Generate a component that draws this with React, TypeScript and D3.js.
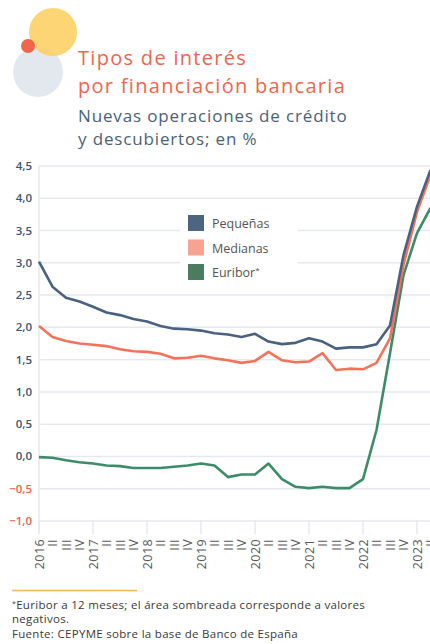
import React, { useRef, useEffect } from 'react';
import * as d3 from 'd3';

// quarterly periods, 2016 I .. 2023 II
const periods = [
    '2016', 'II', 'III', 'IV',
    '2017', 'II', 'III', 'IV',
    '2018', 'II', 'III', 'IV',
    '2019', 'II', 'III', 'IV',
    '2020', 'II', 'III', 'IV',
    '2021', 'II', 'III', 'IV',
    '2022', 'II', 'III', 'IV',
    '2023', 'II'
];

const pequenas = [3.02, 2.63, 2.46, 2.40, 2.32, 2.23, 2.19, 2.13, 2.09, 2.02, 1.98, 1.97, 1.95, 1.91, 1.89, 1.85,
    1.90, 1.78, 1.74, 1.76, 1.83, 1.78, 1.67, 1.69, 1.69, 1.74, 2.03, 3.12, 3.87, 4.44];
const medianas = [2.02, 1.85, 1.79, 1.75, 1.73, 1.71, 1.66, 1.63, 1.62, 1.59, 1.52, 1.53, 1.56, 1.52, 1.49, 1.45,
    1.48, 1.62, 1.49, 1.46, 1.47, 1.60, 1.34, 1.36, 1.35, 1.45, 1.83, 2.97, 3.79, 4.36];
const euribor = [-0.01, -0.02, -0.06, -0.09, -0.11, -0.14, -0.15, -0.18, -0.18, -0.18, -0.16, -0.14, -0.11, -0.14, -0.32, -0.28,
    -0.28, -0.11, -0.35, -0.47, -0.49, -0.47, -0.49, -0.49, -0.35, 0.41, 1.60, 2.81, 3.46, 3.85];

const yTicks = [-1, -0.5, 0, 0.5, 1, 1.5, 2, 2.5, 3, 3.5, 4, 4.5];

const seriesNames = ['Pequeñas', 'Medianas', 'Euribor'];
const lineColors = ['#4a6180', '#f4725a', '#3c8c69'];
const swatchColors = ['#4d6581', '#f8a391', '#4a7d60'];

const FONT = '"Open Sans", sans-serif';

export default function App() {
    const svgRef = useRef(null);

    useEffect(() => {
        const svg = d3.select(svgRef.current);
        svg.selectAll('*').remove();

        const left = 39, top = 166, bottom = 521;
        const step = 13.5;

        const xScale = d3.scaleLinear()
            .domain([0, periods.length - 1])
            .range([left, left + step * (periods.length - 1)]);

        const yScale = d3.scaleLinear()
            .domain([-1, 4.5])
            .range([bottom, top]);

        const fmt = d3.formatLocale({ decimal: ',', thousands: '.', grouping: [3], currency: ['', '€'] }).format('.1f');

        // decorative circles
        const deco = svg.append('g');
        deco.append('circle').attr('cx', 38).attr('cy', 72).attr('r', 25).attr('fill', '#e3e7ee');
        deco.append('circle').attr('cx', 53).attr('cy', 32).attr('r', 24).attr('fill', '#fdcf62').attr('opacity', 0.88);
        deco.append('circle').attr('cx', 28).attr('cy', 46).attr('r', 7).attr('fill', '#ee5a3c').attr('opacity', 0.92);

        // titles
        const title = svg.append('text')
            .attr('font-family', FONT)
            .attr('font-size', 20)
            .attr('font-weight', 500)
            .attr('letter-spacing', 1.3)
            .attr('fill', '#f0654c');
        title.append('tspan').attr('x', 78).attr('y', 65).text('Tipos de interés');
        title.append('tspan').attr('x', 78).attr('y', 93).text('por financiación bancaria');

        const sub = svg.append('text')
            .attr('font-family', FONT)
            .attr('font-size', 17)
            .attr('letter-spacing', 0.85)
            .attr('fill', '#4a6279');
        sub.append('tspan').attr('x', 78).attr('y', 122).text('Nuevas operaciones de crédito');
        sub.append('tspan').attr('x', 78).attr('y', 145).text('y descubiertos; en %');

        // grid
        svg.append('g')
            .selectAll('line')
            .data(yTicks)
            .join('line')
            .attr('x1', left)
            .attr('x2', 430)
            .attr('y1', d => yScale(d))
            .attr('y2', d => yScale(d))
            .attr('stroke', '#e6e9f0')
            .attr('stroke-width', 1.5);

        svg.append('line')
            .attr('x1', left).attr('x2', left)
            .attr('y1', top).attr('y2', bottom + 13)
            .attr('stroke', '#e6e9f0')
            .attr('stroke-width', 1.5);

        // year ticks
        svg.append('g')
            .selectAll('line')
            .data(periods.map((p, i) => i).filter(i => i % 4 === 0))
            .join('line')
            .attr('x1', d => xScale(d))
            .attr('x2', d => xScale(d))
            .attr('y1', bottom)
            .attr('y2', bottom + 13)
            .attr('stroke', '#e6e9f0')
            .attr('stroke-width', 1.5);

        // y labels
        svg.append('g')
            .selectAll('text')
            .data(yTicks)
            .join('text')
            .attr('x', 32)
            .attr('y', d => yScale(d) + 4)
            .attr('text-anchor', 'end')
            .attr('font-family', FONT)
            .attr('font-size', 11.5)
            .attr('font-weight', 600)
            .attr('fill', d => d < 0 ? '#f0634a' : '#3b5673')
            .text(d => fmt(d));

        // x labels
        svg.append('g')
            .selectAll('text')
            .data(periods)
            .join('text')
            .attr('transform', (d, i) => `translate(${xScale(i) + 4.5},${bottom + 18}) rotate(-90)`)
            .attr('text-anchor', 'end')
            .attr('font-family', FONT)
            .attr('font-size', 12.5)
            .attr('letter-spacing', 0.4)
            .attr('fill', '#5a5a5a')
            .text(d => d);

        // legend
        const legend = svg.append('g');
        legend.append('rect')
            .attr('x', 180).attr('y', 205).attr('width', 118).attr('height', 85)
            .attr('fill', '#fff');
        seriesNames.forEach((name, i) => {
            legend.append('rect')
                .attr('x', 188).attr('y', 215 + i * 24.5)
                .attr('width', 16).attr('height', 16)
                .attr('fill', swatchColors[i]);
            legend.append('text')
                .attr('x', 212).attr('y', 228 + i * 24.5)
                .attr('font-family', FONT)
                .attr('font-size', 12.5)
                .attr('fill', '#555')
                .text(name)
                .append('tspan')
                .attr('font-size', 8)
                .attr('dy', -4)
                .text(i === 2 ? '*' : '');
        });

        // lines
        const myLine = d3.line()
            .x((value, index) => xScale(index))
            .y(d => yScale(d));

        svg.append('g')
            .selectAll('path')
            .data([euribor, medianas, pequenas])
            .join('path')
            .attr('d', myLine)
            .attr('fill', 'none')
            .attr('stroke', (d, i) => lineColors[2 - i])
            .attr('stroke-width', 2.6)
            .attr('stroke-linejoin', 'round');

        // footnote
        svg.append('line')
            .attr('x1', 12).attr('x2', 137)
            .attr('y1', 590.5).attr('y2', 590.5)
            .attr('stroke', '#f8b65a')
            .attr('stroke-width', 1.5);

        const note = svg.append('text')
            .attr('font-family', FONT)
            .attr('font-size', 11.5)
            .attr('letter-spacing', 0.3)
            .attr('fill', '#3a3a3a');
        const l1 = note.append('tspan').attr('x', 12).attr('y', 609);
        l1.append('tspan').attr('font-size', 7).attr('dy', -3).text('*');
        l1.append('tspan').attr('dy', 3).text('Euribor a 12 meses; el área sombreada corresponde a valores');
        note.append('tspan').attr('x', 12).attr('y', 623).text('negativos.');
        note.append('tspan').attr('x', 12).attr('y', 638).text('Fuente: CEPYME sobre la base de Banco de España');
    }, []);

    return (
        <div style={{ position: 'absolute', left: 0, top: 0 }}>
            <svg ref={svgRef} width={430} height={644} style={{ display: 'block', background: '#fff' }}></svg>
        </div>
    );
}
